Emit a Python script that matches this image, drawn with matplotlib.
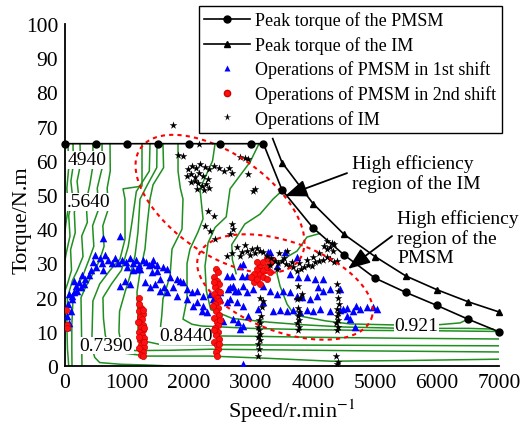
import numpy as np
import matplotlib
matplotlib.use('Agg')
import matplotlib.pyplot as plt
from matplotlib.lines import Line2D

plt.rcParams['font.family'] = ['Liberation Serif', 'DejaVu Serif']
plt.rcParams['mathtext.fontset'] = 'stix'

# peak torque curves
pmsm_speed = [0, 500, 1000, 1500, 2000, 2500, 3000, 3200, 3500, 4000, 4500, 5000, 5500, 6000, 6500, 7000]
pmsm_torque = [65, 65, 65, 65, 65, 65, 65, 65, 51.5, 40.4, 32.5, 25.7, 21.5, 17.7, 13.7, 10.0]
im_speed = [3350, 3500, 4000, 4500, 5000, 5500, 6000, 6500, 7000]
im_torque = [66.5, 59.5, 47.5, 38.5, 32.0, 26.3, 22.3, 18.8, 15.8]

# efficiency iso-lines of the PMSM (speed, torque)
eff_lines = [
    ([48, 60, 30, 50, 10, 0], [65, 58, 52, 46, 41, 39]),
    ([129, 135, 95, 125, 60, 80, 20, 0], [65, 59, 54, 49, 44, 38, 33, 31]),
    ([242, 250, 195, 225, 150, 165, 90, 105, 40, 0], [65, 59, 54, 49, 45, 39, 34, 28, 24, 22]),
    ([452, 445, 400, 340, 360, 270, 290, 200, 120, 40, 30, 40, 60],
     [65, 58, 53, 48, 42, 38, 32, 28, 25, 20, 12, 5, 0]),
    ([597, 600, 520, 545, 445, 465, 385, 300, 200, 130, 110, 110, 113],
     [65, 58, 52, 46, 41, 35, 31, 27, 23, 20, 12, 5, 0]),
    ([726, 730, 680, 700, 610, 630, 560, 480, 330, 258, 265, 270, 274],
     [65, 57, 52, 46, 41, 35, 31, 28, 23, 20, 12, 5, 0]),
    ([1242, 1242, 1242, 936, 968, 968, 887, 726, 560, 450, 440, 435, 440, 480, 560, 900, 1300, 1694],
     [65, 58, 52.6, 51.8, 48.8, 37.1, 31.3, 28, 24, 19, 12, 8.8, 5, 2.5, 1.0, 0.5, 0.3, 0]),
    ([1371, 1360, 1150, 1080, 1020, 910, 750, 612, 620, 650, 700, 850, 1323, 2339, 3200, 4300, 5500, 7000],
     [65, 57, 51, 42, 35, 28, 24, 20, 14, 9, 6, 4, 2.9, 2.9, 2.3, 1.4, 1.6, 2.0]),
    ([1484, 1480, 1330, 1210, 1177, 1129, 1048, 968, 880, 870, 900, 1000, 1129, 1700, 2339, 3500, 5000, 7000],
     [65, 58, 53, 48.8, 39.2, 32.2, 26.3, 21.6, 16, 10, 7, 5.2, 4.5, 4.6, 4.9, 4.7, 4.4, 4.1]),
    ([1580, 1590, 1420, 1371, 1323, 1290, 1210, 1161, 1177, 1177, 1300, 1532, 2339, 4000, 5500, 7000],
     [65, 58, 53, 48.8, 40.9, 34.2, 27.5, 21.6, 15, 9.9, 7.2, 6.3, 6.2, 6.1, 6.0, 5.9]),
    ([1823, 1823, 1860, 1903, 1887, 1726, 1694, 1580, 1560, 1532, 1700, 2387, 3000, 4000, 5500, 7000],
     [65, 57, 52, 48.8, 40, 34.2, 26.3, 19.6, 14.6, 9.9, 9.0, 8.8, 8.7, 8.4, 8.1, 7.9]),
    ([2420, 2380, 2177, 2226, 2145, 2016, 1968, 1968, 1968, 1903, 2050, 2200, 3000, 4000, 5000, 6000, 7000],
     [65, 60, 51.8, 43, 39.2, 34.2, 30, 26.3, 19.6, 13.7, 12.2, 11.7, 11.0, 10.6, 10.4, 10.3, 10.1]),
    ([3129, 2984, 2662, 2600, 2420, 2307, 2258, 2280, 2350, 2700, 3300, 3800, 4500, 5500, 6500, 6900],
     [65, 59.6, 51.8, 43.6, 40.5, 36, 29.2, 22, 16.5, 13.9, 12.8, 12.1, 11.4, 11.0, 11.0, 10.8]),
    ([3516, 3355, 3145, 2900, 2800, 2690, 2700, 2760],
     [51.5, 48.8, 44.4, 41.5, 38.6, 35.5, 31, 27]),
    ([4110, 4081, 3903, 3742, 3581, 3450, 3420, 3468, 3581, 3678, 3790, 4200, 4597, 5323, 6049, 6372, 6500],
     [38.7, 38.6, 37.7, 33.6, 31.9, 30.5, 27, 23.4, 18.1, 15.5, 14.6, 13.2, 12.3, 12.0, 12.1, 12.6, 13.7]),
]
# iso-line labels as they show in the map (the first two are cut by the axis)
eff_labels = ['4940', '.5640', '0.7390', '0.8440', '0.921']
eff_label_speed = [40, 25, 669, 1952, 5670]
eff_label_torque = [60.3, 48.0, 6.0, 8.8, 11.7]
eff_label_ha = ['left', 'left', 'center', 'center', 'center']

# operating points of the PMSM, 1st shift
shift1_speed = [30, 60, 30, 90, 50, 120, 60, 140, 200, 170, 260, 230, 300, 320, 280, 150, 110,
                380, 420, 450, 500, 560, 600, 620, 650, 700, 750, 800, 480, 860, 610, 880,
                920, 980, 1000, 1050, 1100, 1100, 1150, 1160, 1200, 1250, 1300, 1350, 1400, 1420, 1480,
                1210, 1403, 1484, 1580, 1694, 1806, 1742, 1903, 1968, 2048, 2129, 2226, 2339, 2387, 2500,
                2613, 1371, 1532, 1806, 1968, 2129, 2226, 1290, 1450, 1600, 1650, 1532, 1645, 1855, 2065,
                887, 968, 1048,
                2500, 2629, 2710, 2790, 2871, 2936, 2662, 2774, 2871, 2710, 2790, 2871, 2952, 2823, 2613,
                2694, 2855, 2936, 2871, 2452, 2549, 2290, 2210, 2871,
                3307, 3419, 3274, 3549, 3742, 2823, 3629, 3758, 3903, 4033, 4162, 2662, 2742, 3033, 3194,
                3307, 3419, 3516, 3629, 4081, 4162, 4275, 3742, 3823, 3952, 4065, 3355, 3468, 3581, 3678,
                3790, 3903, 4000, 4113, 4275, 3194, 3113,
                4436, 4484, 4549, 4597, 4645, 4678, 4758, 4871, 4968, 5032, 4436, 4550, 4700]
shift1_torque = [11.5, 12.5, 14.5, 16, 18, 19.5, 21, 21.5, 22, 23.5, 23, 24.5, 24, 25.5, 26.5, 25, 20.5,
                 26.5, 28, 30.5, 29, 31.5, 30, 28, 32.5, 31, 30, 31.5, 32.5, 30, 37.5, 38,
                 31, 30.5, 29, 31.5, 30, 28, 31, 28.5, 29.5, 31, 30.5, 29.5, 27.5, 31, 29.5,
                 28.4, 29.8, 27.8, 29, 26, 25.4, 23.1, 24.6, 22.5, 21.6, 21.9, 20.5, 21, 19.6, 19.6,
                 18.7, 23.1, 21.9, 20.5, 19.6, 18.7, 17.5, 24.5, 24, 23, 21.5, 25.4, 28.4, 24.9, 17.5,
                 23.4, 25, 24,
                 21.6, 22.5, 23.4, 22, 23.4, 21.6, 19.6, 18.7, 17.5, 13.7, 12.9, 11.7, 14.6, 10.8, 26.3,
                 26.3, 26.3, 26.3, 29.8, 14.6, 13.2, 15.8, 16.1, 0.6,
                 33.3, 29.2, 33.3, 33.3, 31.9, 29.2, 26.9, 26, 26, 25.4, 25.4, 23.1, 21.9, 22.5, 23.4,
                 21.9, 21, 21.9, 21.6, 23.1, 21.9, 22.5, 20.5, 20.2, 19.6, 20.5, 16.2, 16.5, 16, 16.5,
                 15.8, 16.5, 16, 16.6, 16, 18.7, 16.7,
                 22.5, 16.7, 14.6, 13.7, 16.1, 11.4, 16.7, 17.2, 17.2, 16.7, 16.5, 17, 17.5]

# operating points of the PMSM, 2nd shift
shift2_speed = [20, 40, 30,
                1190, 1230, 1200, 1250, 1210, 1240, 1190, 1260, 1220, 1250, 1200, 1240, 1270, 1210, 1250,
                1230, 1270, 1220, 1250, 1230, 1200, 1260, 1180, 1270, 1190, 1280, 1200, 1260,
                2430, 2470, 2410, 2450, 2480, 2420, 2460, 2400, 2450, 2490, 2420, 2460, 2430, 2480, 2410,
                2450, 2470, 2420, 2460, 2430, 2480, 2410, 2450, 2470, 2430, 2450, 2400, 2500, 2390, 2500,
                2400, 2490,
                3050, 3100, 3150, 3200, 3250, 3300, 3350, 3100, 3150, 3200, 3250, 3300, 3050, 3200, 3150,
                3000, 3250, 3100]
shift2_torque = [16.5, 12, 11,
                 20.0, 17.0, 16.0, 15.2, 14.4, 13.6, 12.8, 12.0, 11.3, 10.5, 9.8, 9.0, 8.3, 7.6, 6.9,
                 6.2, 5.5, 4.8, 4.1, 3.3, 18.0, 16.5, 13.0, 11.0, 8.6, 7.0, 5.2, 2.8,
                 28.5, 27.5, 26, 25, 24, 23, 22, 21, 20, 19, 18, 17, 16, 15, 14,
                 13, 12, 11, 10, 9, 8, 7, 6, 5, 4, 3, 24.5, 21.5, 17.5, 13.5,
                 10.5, 6.5,
                 24.5, 25.5, 27, 28, 29, 30, 31, 28.5, 29.5, 30.5, 31.5, 27.5, 27, 26, 24,
                 26, 25.5, 30.5]

# operating points of the IM
im_op_speed = [1740, 1820, 1900, 2160,
               1990, 2050, 2120, 2180, 2250, 2330, 2410, 2480, 2560, 2640, 2700,
               1970, 2030, 2100, 2160, 2230, 2300, 2030, 2090, 2150, 2210, 2270, 2130, 2240, 2330,
               2300, 2400, 2260, 2340, 2420, 2660, 2710, 2690,
               2820, 2900, 2950, 3030, 3070, 2950,
               2780, 2860, 2940, 3020, 3100, 2820, 2610, 2700, 2980, 3060, 2900, 3150,
               3200, 3260, 3320, 3380, 3440, 3500, 3560, 3620, 3680, 3740, 3800, 3860, 3920, 3980, 4040,
               4100, 4160, 4220, 4280, 4340, 4390, 4320, 4280, 4230, 4180, 4340, 3300, 3420, 3540, 3660,
               3780, 3900, 4000, 4100, 3580, 3450, 4230, 4300,
               3120, 3130, 3110, 3140, 3120, 3150, 3130, 3110, 3150, 3130, 3160, 3180, 3150, 3190,
               3750, 3770, 3740, 3780, 3760, 3770, 3750, 3790, 3760, 3740, 3820,
               4380, 4400, 4370, 4410, 4390, 4400, 4380, 4420, 4400, 4410, 4390, 4370, 4390, 4400]
im_op_torque = [70.5, 61.7, 61.4, 65,
                57.5, 58.5, 57.8, 59, 58.2, 57.5, 58.5, 57.8, 57, 58, 56.5,
                55.5, 56, 55.2, 56.3, 55.6, 54.8, 53.8, 54.2, 53.5, 52.6, 53.2, 51.8, 51.5, 52,
                45.3, 43.9, 41, 39.5, 37.1, 38.6, 40, 41.5,
                61, 60.8, 56, 51.2, 51.8, 60.5,
                34.8, 33.3, 33.6, 34.2, 34.5, 32.2, 32.2, 33, 32.5, 33, 35.5, 33.6,
                33.3, 32.2, 31.5, 30.8, 30.2, 30.8, 29.8, 29.2, 28.9, 27.8, 28.4, 28.9, 29.5, 29.2, 30.4,
                30.7, 31, 31.9, 31.2, 30.5, 30.7, 33.6, 34.8, 34.2, 35.2, 35.6, 29.5, 28.5, 31.5, 30.5,
                30, 31, 32, 33, 33.5, 33, 36.5, 36,
                2.9, 5, 6.5, 7.5, 8.5, 9.5, 10.5, 11.5, 12.5, 13.5, 14.6, 17.2, 20, 19,
                10.5, 11.5, 12.5, 13.5, 14.5, 15.8, 17, 20, 23.4, 19.6, 21,
                10.5, 11.5, 12.5, 13.5, 14.5, 15.5, 16.7, 18, 20, 22, 24, 2.9, 0.6, 1.2]

fig = plt.figure(figsize=(5.23, 4.27), dpi=100)
ax = fig.add_axes([65 / 523, 60 / 427, 434 / 523, 342 / 427])
ax.set_xlim(0, 7000)
ax.set_ylim(0, 100)

green = '#1f8f1f'
for sp, tq in eff_lines:
    ax.plot(sp, tq, color=green, lw=1.1, zorder=1)
for lab, sx, ty, ha in zip(eff_labels, eff_label_speed, eff_label_torque, eff_label_ha):
    ax.text(sx, ty, lab, fontsize=14, ha=ha, va='center', zorder=2,
            bbox=dict(facecolor='white', edgecolor='none', pad=0.3))

ax.scatter(shift1_speed, shift1_torque, marker='^', s=30, color='#0000ff', linewidths=0, zorder=3)
ax.scatter(shift2_speed, shift2_torque, marker='o', s=20, color='#ff1010', edgecolors='#d00000',
           linewidths=0.5, zorder=4)
ax.scatter(im_op_speed, im_op_torque, marker='*', s=34, color='black', linewidths=0, zorder=5)


def ellipse_pts(center, a, b, angle):
    cx, cy = ax.transData.transform(center)
    t = np.linspace(0, 2 * np.pi, 300)
    ca, sa = np.cos(np.radians(angle)), np.sin(np.radians(angle))
    x = cx + a * np.cos(t) * ca - b * np.sin(t) * sa
    y = cy + a * np.cos(t) * sa + b * np.sin(t) * ca
    return ax.transData.inverted().transform(np.column_stack([x, y]))


for c, a, b, ang in [((2500, 47.4), 97, 50, -35), ((3548, 23.1), 92, 45, -20)]:
    pts = ellipse_pts(c, a, b, ang)
    ax.plot(pts[:, 0], pts[:, 1], color='red', lw=1.5, ls=(0, (2, 2)), zorder=6)

ax.plot(pmsm_speed, pmsm_torque, color='black', lw=1.2, marker='o', ms=5, zorder=7, clip_on=False)
ax.plot(im_speed, im_torque, color='black', lw=1.2, marker='^', ms=5,
        markevery=list(range(1, len(im_speed))), zorder=7, clip_on=False)

ax.text(4630, 56.3, 'High efficiency\nregion of the IM', fontsize=14, ha='left', va='center',
        linespacing=1.15)
ax.text(5355, 37.6, 'High efficiency\nregion of the\nPMSM', fontsize=14, ha='left', va='center',
        linespacing=1.15)
arrow = dict(arrowstyle='-|>,head_length=0.9,head_width=0.35', color='black', lw=1.3,
             shrinkA=0, shrinkB=0, mutation_scale=15)
ax.annotate('', xy=(3549, 49.7), xytext=(4549, 56.4), arrowprops=arrow, zorder=8)
ax.annotate('', xy=(4565, 28.4), xytext=(5275, 38.0), arrowprops=arrow, zorder=8)

ax.set_xticks(range(0, 7001, 1000))
ax.set_yticks(range(0, 101, 10))
ax.tick_params(length=0, labelsize=15.5, pad=5)
ax.spines['top'].set_visible(False)
ax.spines['right'].set_visible(False)
for s in ['left', 'bottom']:
    ax.spines[s].set_linewidth(1.3)
ax.set_xlabel('Speed/r.min$^{-1}$', fontsize=16)
ax.set_ylabel('Torque/N.m', fontsize=16)
ax.xaxis.set_label_coords(0.523, -0.09)
ax.yaxis.set_label_coords(-0.078, 0.43)

handles = [
    Line2D([], [], color='black', lw=1.2, marker='o', ms=5),
    Line2D([], [], color='black', lw=1.2, marker='^', ms=5),
    Line2D([], [], ls='none', marker='^', ms=5, color='#0000ff', mec='none'),
    Line2D([], [], ls='none', marker='o', ms=4.5, color='#ff1010', mec='#d00000'),
    Line2D([], [], ls='none', marker='*', ms=5.5, color='black', mec='none'),
]
labels = ['Peak torque of the PMSM', 'Peak torque of the IM', 'Operations of PMSM in 1st shift',
          'Operations of PMSM in 2nd shift', 'Operations of IM']
leg = ax.legend(handles, labels, loc='upper left', bbox_to_anchor=(199 / 523, 1 - 7 / 427),
                bbox_transform=fig.transFigure, borderaxespad=0, fontsize=13, frameon=True,
                fancybox=False, framealpha=1, edgecolor='black', handlelength=2.5,
                handletextpad=0.3, labelspacing=0.37, borderpad=0.3)
leg.get_frame().set_linewidth(1.0)
leg.set_zorder(10)

fig.savefig('out.png', dpi=100)
